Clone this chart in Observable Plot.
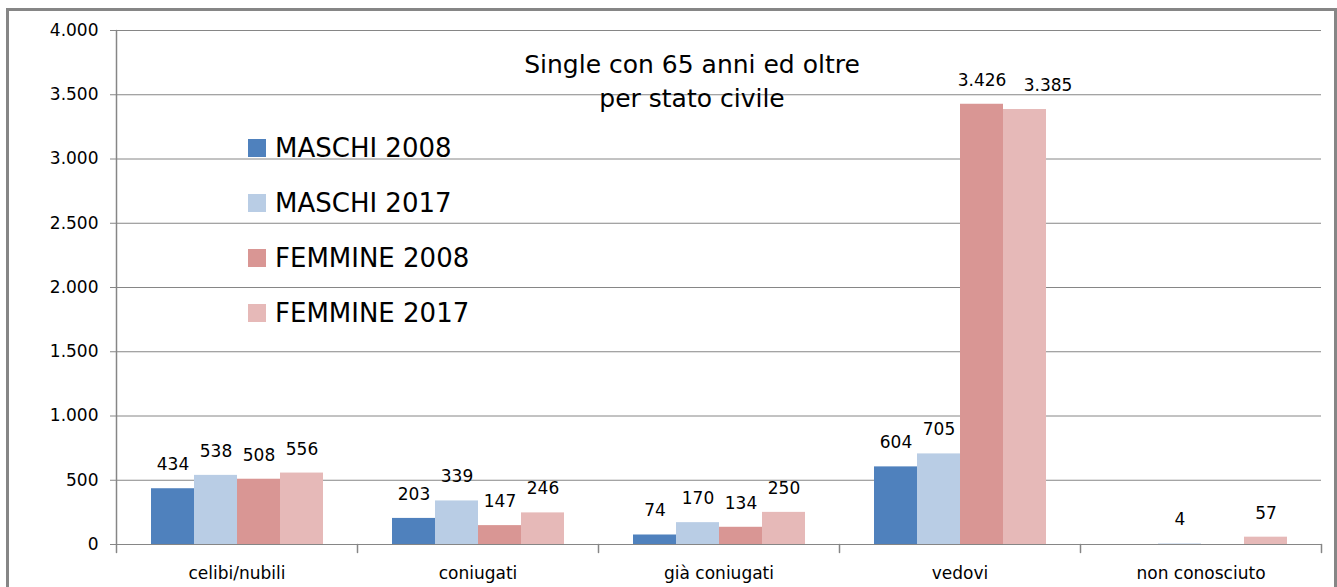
<!DOCTYPE html>
<html>
<head>
<meta charset="utf-8">
<script src="https://cdn.jsdelivr.net/npm/d3@7"></script>
<script src="https://cdn.jsdelivr.net/npm/@observablehq/plot@0.6"></script>
<style>
  html, body { margin: 0; padding: 0; background: #fff; }
  #wrap { position: relative; width: 1337px; height: 587px; overflow: hidden; font-family: "DejaVu Sans", sans-serif; }
  #frame { position: absolute; left: 6px; top: 8px; width: 1325px; height: 600px; border: 3px solid #868686; border-bottom: none; pointer-events: none; }
  #title { position: absolute; left: 442px; width: 500px; top: 48px; text-align: center; font-size: 25px; line-height: 34px; color: #000; }
  #legend { position: absolute; left: 248px; top: 120px; }
  .lg-swatch { height: 55px; padding-bottom: 0 !important; }
  .lg-swatch svg { margin-right: 9px !important; }
  .lg-swatch-label, .lg-swatches { font-family: "DejaVu Sans", sans-serif; font-size: 26px; color: #000; }
</style>
</head>
<body>
<div id="wrap">
  <div id="chart"></div>
  <div id="title">Single con 65 anni ed oltre<br>per stato civile</div>
  <div id="legend"></div>
  <div id="frame"></div>
</div>
<script>
const categories = ["celibi/nubili", "coniugati", "già coniugati", "vedovi", "non conosciuto"];
const series = ["MASCHI 2008", "MASCHI 2017", "FEMMINE 2008", "FEMMINE 2017"];
const colors = ["#4F81BD", "#B9CDE5", "#D99694", "#E6B9B8"];
const maschi2008 = [434, 203, 74, 604, null];
const maschi2017 = [538, 339, 170, 705, 4];
const femmine2008 = [508, 147, 134, 3426, null];
const femmine2017 = [556, 246, 250, 3385, 57];
const yTicks = [0, 500, 1000, 1500, 2000, 2500, 3000, 3500, 4000];

const seriesValues = [maschi2008, maschi2017, femmine2008, femmine2017];
const data = [];
categories.forEach((c, ci) => {
  series.forEach((s, si) => {
    data.push({cat: c, series: s, value: seriesValues[si][ci]});
  });
});
const valid = data.filter(d => d.value != null);
// the label of the last bar of "vedovi" is nudged right in the original to avoid overlap
const isShifted = d => d.cat === "vedovi" && d.series === "FEMMINE 2017";
const fmt = v => d3.format(",")(v).replace(/,/g, ".");
const grey = "#868686";
const lineShape = { draw(context, l) { context.moveTo(0, 0); context.lineTo(0, -l); } };

const chart = Plot.plot({
  width: 1337,
  height: 587,
  marginLeft: 115,
  marginRight: 15,
  marginTop: 30,
  marginBottom: 43,
  style: { fontFamily: "DejaVu Sans, sans-serif", fontSize: "17px", color: "#000", background: "transparent" },
  fx: { domain: categories, padding: 0 },
  x: { domain: series, paddingInner: 0, paddingOuter: 0.743, axis: null },
  y: { domain: [0, 4000] },
  color: { domain: series, range: colors },
  marks: [
    Plot.ruleY(yTicks, { stroke: grey }),
    Plot.barY(valid, { fx: "cat", x: "series", y: "value", fill: "series" }),
    Plot.text(valid.filter(d => !isShifted(d)), { fx: "cat", x: "series", y: "value", text: d => fmt(d.value), dy: -24, fontSize: 17, fill: "#000" }),
    Plot.text(valid.filter(isShifted), { fx: "cat", x: "series", y: "value", text: d => fmt(d.value), dy: -24, dx: 23, fontSize: 17, fill: "#000" }),
    Plot.axisY({ ticks: yTicks, tickFormat: fmt, tickSize: 6, tickPadding: 12, stroke: grey, fill: "#000", fontSize: 17, label: null }),
    Plot.axisFx({ anchor: "bottom", tickSize: 0, tickPadding: 22, fontSize: 17, fill: "#000", label: null }),
    Plot.vector([0], { frameAnchor: "bottom-left", length: 8, rotate: 180, anchor: "start", stroke: grey, shape: lineShape }),
    Plot.vector([{cat: categories[categories.length - 1]}], { fx: "cat", frameAnchor: "bottom-right", length: 8, rotate: 180, anchor: "start", stroke: grey, shape: lineShape }),
    Plot.vector([{cat: categories[0]}], { fx: "cat", frameAnchor: "bottom-left", length: 514, rotate: 0, anchor: "start", stroke: grey, shape: lineShape })
  ]
});
document.getElementById("chart").appendChild(chart);

const legend = Plot.legend({
  color: { domain: series, range: colors },
  legend: "swatches",
  columns: 1,
  swatchSize: 18,
  className: "lg"
});
document.getElementById("legend").appendChild(legend);
</script>
</body>
</html>
